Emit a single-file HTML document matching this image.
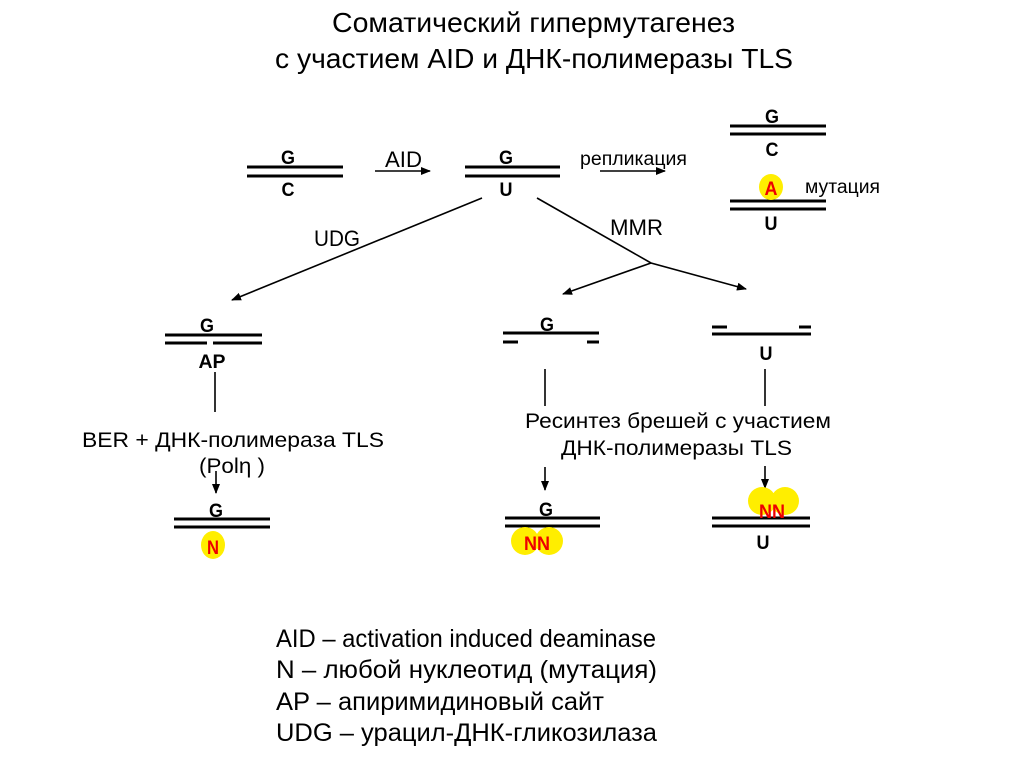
<!DOCTYPE html>
<html><head><meta charset="utf-8"><style>
html,body{margin:0;padding:0;background:#fff;}
svg{display:block;}
text{font-family:"Liberation Sans",sans-serif;}
.b{font-weight:bold;font-size:19px;text-anchor:middle;}
.r{fill:#e00;}
</style></head><body>
<svg width="1024" height="768" viewBox="0 0 1024 768" xmlns="http://www.w3.org/2000/svg">
<defs><marker id="ar" markerWidth="10" markerHeight="8" refX="9" refY="4" orient="auto" markerUnits="userSpaceOnUse"><path d="M0,0 L10,4 L0,8 z" fill="#000"/></marker></defs>
<g font-size="28">
<text x="332" y="32" textLength="403" lengthAdjust="spacingAndGlyphs">Соматический гипермутагенез</text>
<text x="275" y="68" textLength="518" lengthAdjust="spacingAndGlyphs">с участием AID и ДНК-полимеразы TLS</text>
</g>
<g stroke="#000" stroke-width="3">
<line x1="247" y1="167" x2="343" y2="167"/><line x1="247" y1="176" x2="343" y2="176"/>
<line x1="465" y1="167" x2="560" y2="167"/><line x1="465" y1="176" x2="560" y2="176"/>
<line x1="730" y1="126" x2="826" y2="126"/><line x1="730" y1="134" x2="826" y2="134"/>
<line x1="730" y1="201" x2="826" y2="201"/><line x1="730" y1="209" x2="826" y2="209"/>
<line x1="165" y1="335" x2="262" y2="335"/><line x1="165" y1="343" x2="207" y2="343"/><line x1="213" y1="343" x2="262" y2="343"/>
<line x1="503" y1="333" x2="599" y2="333"/><line x1="503" y1="342" x2="518" y2="342"/><line x1="587" y1="342" x2="599" y2="342"/>
<line x1="712" y1="327" x2="727" y2="327"/><line x1="799" y1="327" x2="811" y2="327"/><line x1="712" y1="334" x2="811" y2="334"/>
<line x1="174" y1="519" x2="270" y2="519"/><line x1="174" y1="527" x2="270" y2="527"/>
<line x1="505" y1="518" x2="600" y2="518"/><line x1="505" y1="526" x2="600" y2="526"/>
<line x1="712" y1="518" x2="810" y2="518"/><line x1="712" y1="526" x2="810" y2="526"/>
</g>
<g stroke="#000" stroke-width="1.6" fill="none">
<line x1="375" y1="171" x2="430" y2="171" marker-end="url(#ar)"/>
<line x1="600" y1="171" x2="665" y2="171" marker-end="url(#ar)"/>
<line x1="482" y1="198" x2="232" y2="300" marker-end="url(#ar)"/>
<polyline points="537,198 651,263 746,289" marker-end="url(#ar)"/>
<line x1="651" y1="263" x2="563" y2="294" marker-end="url(#ar)"/>
<line x1="215" y1="372" x2="215" y2="412"/>
<line x1="545" y1="369" x2="545" y2="406"/>
<line x1="765" y1="369" x2="765" y2="406"/>
<line x1="216" y1="471" x2="216" y2="493" marker-end="url(#ar)"/>
<line x1="545" y1="467" x2="545" y2="490" marker-end="url(#ar)"/>
<line x1="765" y1="466" x2="765" y2="488" marker-end="url(#ar)"/>
</g>
<g fill="#ffee00">
<ellipse cx="771" cy="187" rx="12" ry="13"/>
<ellipse cx="213" cy="545" rx="12" ry="14"/>
<circle cx="525" cy="541" r="14"/><circle cx="549" cy="541" r="14"/>
<circle cx="762" cy="501" r="14"/><circle cx="785" cy="501" r="14"/>
</g>
<g class="b">
<text x="288" y="164" textLength="14" lengthAdjust="spacingAndGlyphs">G</text><text x="288" y="196" textLength="13" lengthAdjust="spacingAndGlyphs">C</text>
<text x="506" y="164" textLength="14" lengthAdjust="spacingAndGlyphs">G</text><text x="506" y="196" textLength="13" lengthAdjust="spacingAndGlyphs">U</text>
<text x="772" y="123" textLength="14" lengthAdjust="spacingAndGlyphs">G</text><text x="772" y="156" textLength="13" lengthAdjust="spacingAndGlyphs">C</text>
<text x="771" y="195" class="r" textLength="13" lengthAdjust="spacingAndGlyphs">A</text><text x="771" y="230" textLength="13" lengthAdjust="spacingAndGlyphs">U</text>
<text x="207" y="332" textLength="14" lengthAdjust="spacingAndGlyphs">G</text><text x="212" y="368" textLength="27" lengthAdjust="spacingAndGlyphs">AP</text>
<text x="547" y="331" textLength="14" lengthAdjust="spacingAndGlyphs">G</text><text x="766" y="360" textLength="13" lengthAdjust="spacingAndGlyphs">U</text>
<text x="216" y="517" textLength="14" lengthAdjust="spacingAndGlyphs">G</text><text x="213" y="554" class="r" textLength="12" lengthAdjust="spacingAndGlyphs">N</text>
<text x="546" y="516" textLength="14" lengthAdjust="spacingAndGlyphs">G</text><text x="537" y="550" class="r" textLength="26" lengthAdjust="spacingAndGlyphs">NN</text>
<text x="772" y="518" class="r" textLength="26" lengthAdjust="spacingAndGlyphs">NN</text><text x="763" y="549" textLength="13" lengthAdjust="spacingAndGlyphs">U</text>
</g>
<g font-size="22">
<text x="385" y="167" textLength="37" lengthAdjust="spacingAndGlyphs">AID</text>
<text x="314" y="246" textLength="46" lengthAdjust="spacingAndGlyphs">UDG</text>
<text x="610" y="235" textLength="53" lengthAdjust="spacingAndGlyphs">MMR</text>
</g>
<g font-size="19">
<text x="580" y="165" textLength="107" lengthAdjust="spacingAndGlyphs">репликация</text>
<text x="805" y="193" textLength="75" lengthAdjust="spacingAndGlyphs">мутация</text>
</g>
<g font-size="21">
<text x="82" y="447" textLength="302" lengthAdjust="spacingAndGlyphs">BER + ДНК-полимераза  TLS</text>
<text x="199" y="473" textLength="66" lengthAdjust="spacingAndGlyphs">(Polη )</text>
<text x="525" y="428" textLength="306" lengthAdjust="spacingAndGlyphs">Ресинтез брешей  с участием</text>
<text x="561" y="455" textLength="231" lengthAdjust="spacingAndGlyphs">ДНК-полимеразы  TLS</text>
</g>
<g font-size="25">
<text x="276" y="647" textLength="380" lengthAdjust="spacingAndGlyphs">AID – activation induced deaminase</text>
<text x="276" y="678" textLength="381" lengthAdjust="spacingAndGlyphs">N – любой нуклеотид (мутация)</text>
<text x="276" y="710" textLength="328" lengthAdjust="spacingAndGlyphs">AP – апиримидиновый сайт</text>
<text x="276" y="741" textLength="381" lengthAdjust="spacingAndGlyphs">UDG – урацил-ДНК-гликозилаза</text>
</g>
</svg>
</body></html>
